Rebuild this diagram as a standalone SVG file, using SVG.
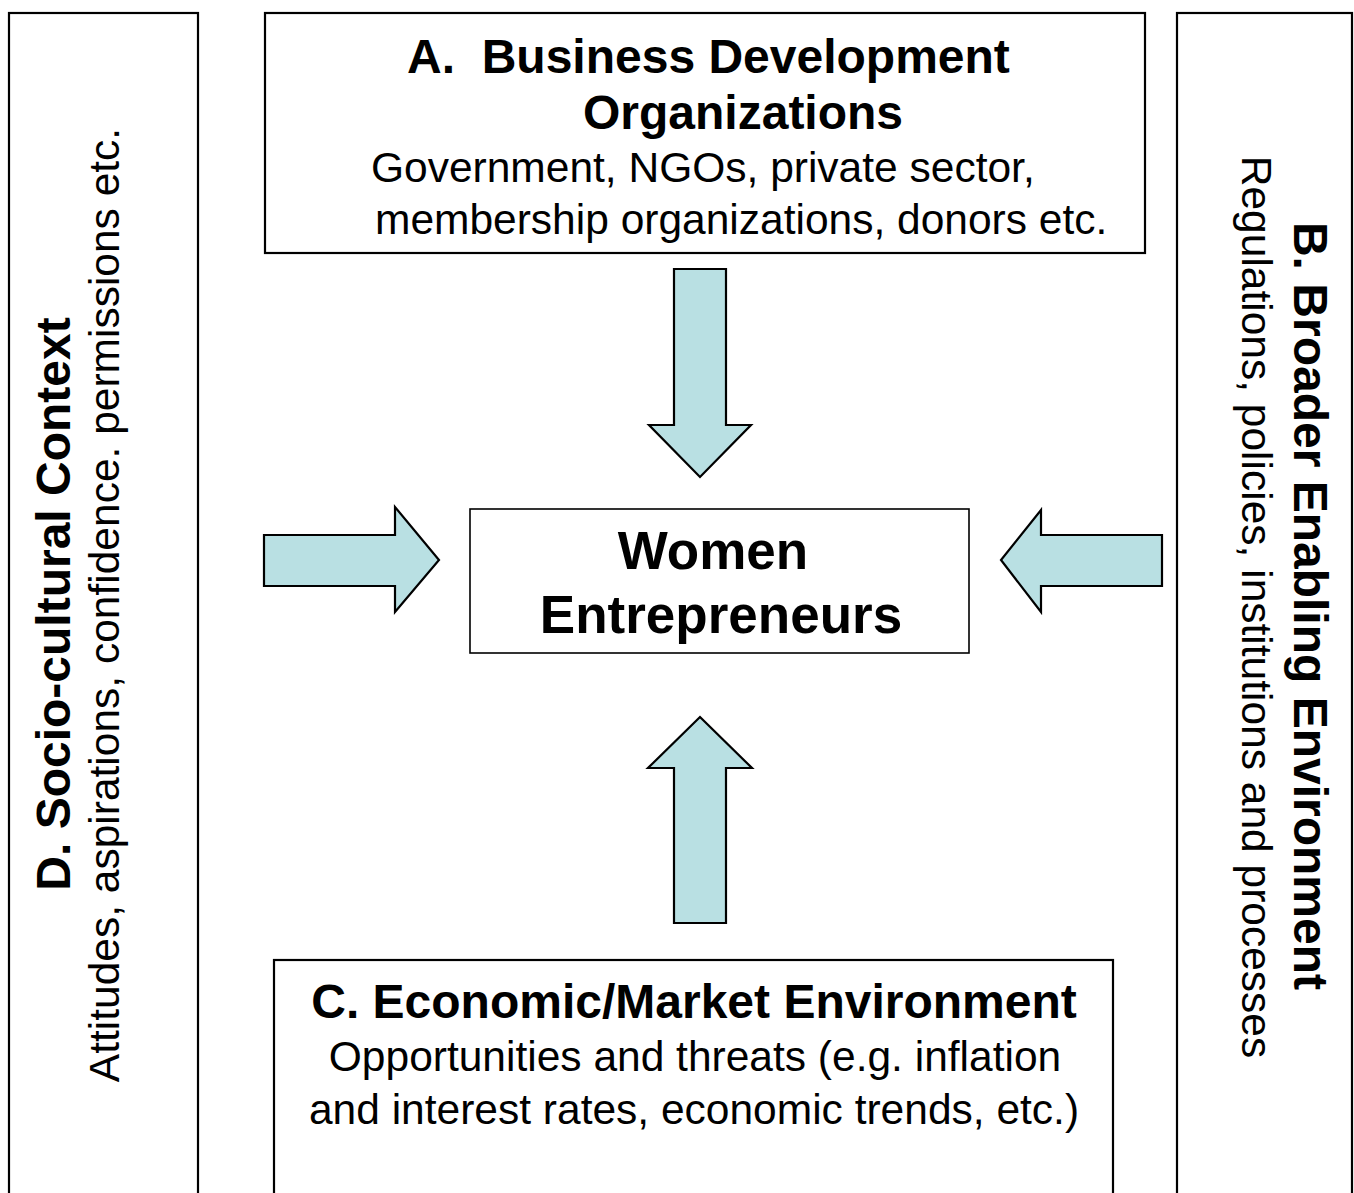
<svg xmlns="http://www.w3.org/2000/svg" width="1354" height="1193" viewBox="0 0 1354 1193">
<style>
.box{fill:#ffffff;stroke:#000000;stroke-width:2.2}
.arrow{fill:#B9E0E3;stroke:#000000;stroke-width:2.2;stroke-linejoin:miter}
.t{font-family:"Liberation Sans",Arial,sans-serif;fill:#000000}
.b{font-weight:bold;font-size:48px}
.r{font-size:42.5px}
.c{font-weight:bold;font-size:53px}
</style>
<rect width="1354" height="1193" fill="#ffffff"/>
<g id="node-D">
<rect class="box" x="9" y="13" width="189" height="1200"/>
<text class="t b" text-anchor="middle" transform="translate(70,604) rotate(-90)">D. Socio-cultural Context</text>
<text class="t r" text-anchor="middle" transform="translate(118.5,605) rotate(-90)">Attitudes, aspirations, confidence. permissions etc.</text>
</g>
<g id="node-A">
<rect class="box" x="265" y="13" width="880" height="240"/>
<text class="t b" x="407" y="73">A.&#160; Business Development</text>
<text class="t b" x="583" y="129">Organizations</text>
<text class="t r" x="371" y="182">Government, NGOs, private sector,</text>
<text class="t r" x="375" y="234">membership organizations, donors etc.</text>
</g>
<g id="node-B">
<rect class="box" x="1177" y="13" width="175" height="1200"/>
<text class="t b" text-anchor="middle" transform="translate(1294,606) rotate(90)">B. Broader Enabling Environment</text>
<text class="t r" text-anchor="middle" transform="translate(1242,607) rotate(90)">Regulations, policies, institutions and processes</text>
</g>
<g id="node-center">
<rect class="box" x="470" y="509" width="499" height="144" style="stroke-width:1.6"/>
<text class="t c" x="713" y="569" text-anchor="middle">Women</text>
<text class="t c" x="721" y="633" text-anchor="middle">Entrepreneurs</text>
</g>
<g id="node-C">
<rect class="box" x="274" y="960" width="839" height="260"/>
<text class="t b" x="694" y="1018" text-anchor="middle">C. Economic/Market Environment</text>
<text class="t r" x="695" y="1071" text-anchor="middle">Opportunities and threats (e.g. inflation</text>
<text class="t r" x="694" y="1124" text-anchor="middle">and interest rates, economic trends, etc.)</text>
</g>
<g id="connectors">
<polygon class="arrow" points="674,269 726,269 726,425 751,425 700,477 649,425 674,425"/>
<polygon class="arrow" points="674,923 726,923 726,768 752,768 700,717 648,768 674,768"/>
<polygon class="arrow" points="264,535 395,535 395,507 439,560 395,612 395,586 264,586"/>
<polygon class="arrow" points="1162,535 1041,535 1041,510 1001,560 1041,612 1041,586 1162,586"/>
</g>
</svg>
